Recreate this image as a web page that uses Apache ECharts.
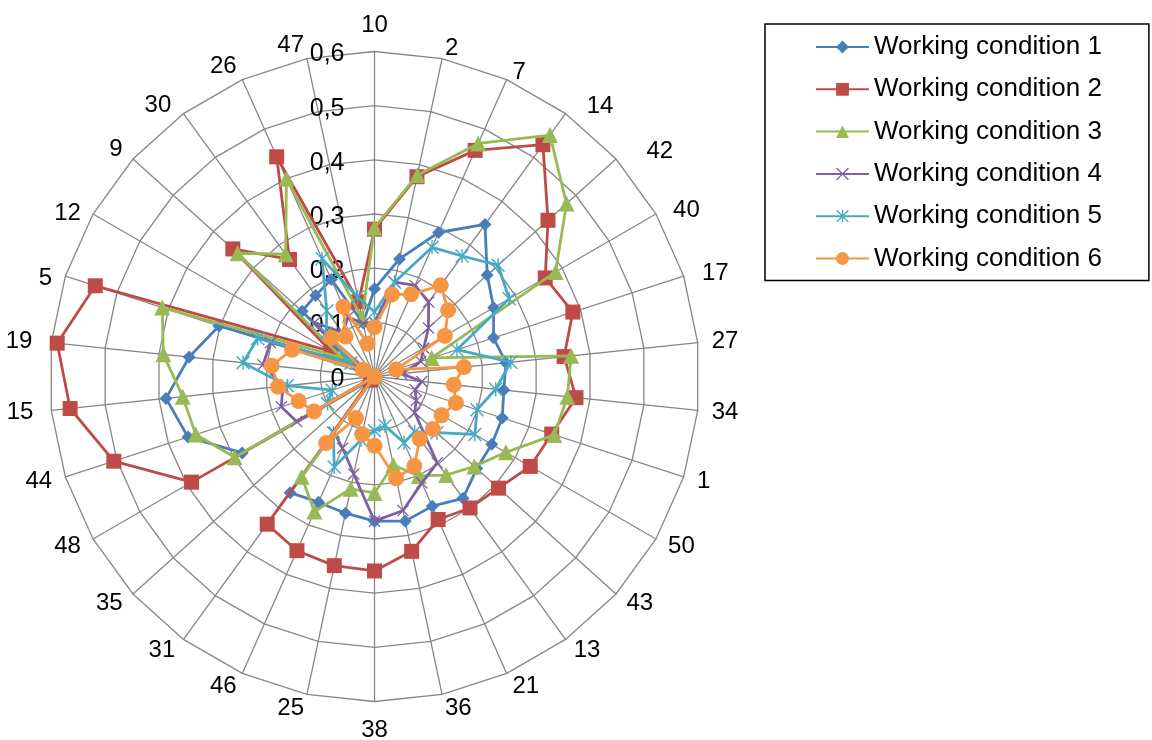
<!DOCTYPE html>
<html>
<head>
<meta charset="utf-8">
<script src="https://cdn.jsdelivr.net/npm/echarts@6/dist/echarts.min.js"></script>
<style>
  html, body { margin: 0; padding: 0; background: #fff; }
  #chart { width: 1152px; height: 740px; }
</style>
</head>
<body>
<div id="chart"></div>
<script>
// Spoke labels, listed clockwise from the top
const categories = ['10','2','7','14','42','40','17','27','34','1','50','43','13','21','36','38','25','46','31','35','48','44','15','19','5','12','9','30','26','47'];

// Radial tick values
const tickValues = [0, 0.1, 0.2, 0.3, 0.4, 0.5, 0.6];

// Series names
const seriesNames = ['Working condition 1','Working condition 2','Working condition 3','Working condition 4','Working condition 5','Working condition 6'];

// Values per spoke, same clockwise order as categories
const wc1 = [0.162,0.222,0.291,0.347,0.280,0.254,0.231,0.244,0.240,0.248,0.250,0.254,0.278,0.262,0.273,0.267,0.258,0.254,0.265,0,0.282,0.362,0.387,0.344,0.302,0.040,0.180,0.185,0.196,0.101];
const wc2 = [0.272,0.377,0.457,0.529,0.431,0.364,0.385,0.352,0.374,0.344,0.332,0.308,0.300,0.289,0.330,0.359,0.357,0.352,0.337,0.010,0.390,0.506,0.565,0.589,0.542,0.093,0.352,0.267,0.444,0.141];
const wc3 = [0.275,0.380,0.471,0.551,0.477,0.386,0.111,0.365,0.358,0.349,0.280,0.248,0.225,0.201,0.167,0.215,0.212,0.273,0.229,0,0.298,0.347,0.356,0.392,0.412,0.070,0.340,0.279,0.400,0.110];
const wc4 = [0.100,0.178,0.184,0.170,0.134,0.105,0.090,0.050,0.088,0.079,0.089,0.100,0.197,0.215,0.253,0.267,0.184,0.145,0.127,0,0.166,0.181,0.170,0.207,0.202,0.050,0.149,0.100,0.120,0.100];
const wc5 = [0.119,0.178,0.261,0.275,0.307,0.287,0.160,0.253,0.225,0.199,0.214,0.155,0.126,0.134,0.093,0.100,0.120,0.183,0.129,0,0.100,0.082,0.162,0.244,0.227,0.050,0.120,0.150,0.238,0.150];
const wc6 = [0.091,0.155,0.166,0.208,0.183,0.150,0.042,0.166,0.147,0.158,0.143,0.145,0.142,0.181,0.192,0.128,0.109,0.084,0.152,0,0.129,0.147,0.179,0.191,0.160,0.025,0.107,0.091,0.141,0.062];

const colors = ['#4A7EBB','#BE4B48','#98B954','#7D60A0','#46AAC5','#F69544'];
const FONT = 'Liberation Sans, Arial, sans-serif';

// Cross and asterisk markers as filled outlines so they scale like strokes
const crossPath = 'path://M0,1.5L1.5,0L10,8.5L18.5,0L20,1.5L11.5,10L20,18.5L18.5,20L10,11.5L1.5,20L0,18.5L8.5,10Z';
const starPath = 'path://M0,1.5L1.5,0L10,8.5L18.5,0L20,1.5L11.5,10L20,18.5L18.5,20L10,11.5L1.5,20L0,18.5L8.5,10Z M9,0L11,0L11,20L9,20Z';
const symbols = ['diamond','rect','triangle',crossPath,starPath,'circle'];
const symbolSizes = [13,15,16,12,14,16];
const allValues = [wc1, wc2, wc3, wc4, wc5, wc6];

// Small per-label nudges [dx, dy] in pixels for the spoke names
const nameNudge = { '2':[0,3], '7':[0,6], '14':[13,4], '42':[20,2], '40':[5,3], '17':[5,2], '38':[0,3], '15':[-4,0], '19':[-5,0], '5':[0,7], '12':[0,6], '30':[-4,3] };
const nameRich = {};
categories.forEach((c, i) => {
  const n = nameNudge[c];
  if (!n) return;
  const ang = i * 360 / categories.length;
  const midAligned = !(ang === 0 || ang === 180);
  const pad = [0, 0, 0, 0];
  if (n[1] > 0) pad[0] = midAligned ? 2 * n[1] : n[1];
  if (n[0] > 0) pad[3] = n[0];
  if (n[0] < 0) pad[1] = -n[0];
  nameRich['n' + i] = { padding: pad, fontSize: 24, color: '#000', fontFamily: FONT };
});
const nameFormatter = name => {
  const key = 'n' + categories.indexOf(name);
  return nameRich[key] ? '{' + key + '|' + name + '}' : name;
};

// The radar lays indicators out counter-clockwise, so feed them in reverse after the first
const order = [0];
for (let i = categories.length - 1; i >= 1; i--) order.push(i);
const reorder = arr => order.map(i => arr[i]);

const fmt = v => (v === 0 ? '0' : v.toFixed(1).replace('.', ','));

const indicator = reorder(categories).map((name, k) => {
  const ind = { name: name, min: tickValues[0], max: tickValues[tickValues.length - 1] };
  if (k === 0) {
    ind.axisLabel = {
      show: true, fontSize: 25, color: '#000', margin: 30,
      verticalAlign: 'top', lineHeight: 6,
      fontFamily: FONT, formatter: fmt
    };
  }
  return ind;
});

const radarSeries = allValues.map((vals, s) => ({
  type: 'radar',
  z: 2 + s,
  symbol: symbols[s],
  symbolSize: symbolSizes[s],
  lineStyle: { color: colors[s], width: 2.8 },
  itemStyle: { color: colors[s] },
  emphasis: { disabled: true },
  data: [{ name: seriesNames[s], value: reorder(vals) }]
}));

// Empty line series supply line-with-marker legend icons
const legendSeries = seriesNames.map((name, s) => ({
  type: 'line',
  name: name,
  data: [],
  symbol: symbols[s],
  lineStyle: { color: colors[s], width: 2.8 },
  itemStyle: { color: colors[s] }
}));

const chart = echarts.init(document.getElementById('chart'), null, { renderer: 'canvas' });
chart.setOption({
  backgroundColor: '#fff',
  animation: false,
  textStyle: { fontFamily: FONT },
  grid: { show: false, left: 0, top: 0, width: 1, height: 1 },
  xAxis: { show: false, type: 'value' },
  yAxis: { show: false, type: 'value' },
  legend: {
    data: seriesNames,
    orient: 'vertical',
    left: 765,
    top: 24,
    padding: [8, 47, 7, 50],
    itemWidth: 53,
    itemHeight: 16,
    itemGap: 12.3,
    borderColor: '#000',
    borderWidth: 1.5,
    selectedMode: false,
    textStyle: { fontSize: 26, color: '#000', lineHeight: 30, fontFamily: FONT }
  },
  radar: {
    center: [374.5, 376.5],
    radius: 325,
    startAngle: 90,
    splitNumber: 6,
    shape: 'polygon',
    indicator: indicator,
    axisName: { color: '#000', fontSize: 24, fontFamily: FONT, formatter: nameFormatter, rich: nameRich },
    nameGap: 14,
    axisLine: { lineStyle: { color: '#878787', width: 1.3 } },
    splitLine: { lineStyle: { color: '#878787', width: 1.3 } },
    splitArea: { show: false },
    axisTick: { show: false },
    axisLabel: { show: false }
  },
  series: legendSeries.concat(radarSeries)
});
</script>
</body>
</html>
